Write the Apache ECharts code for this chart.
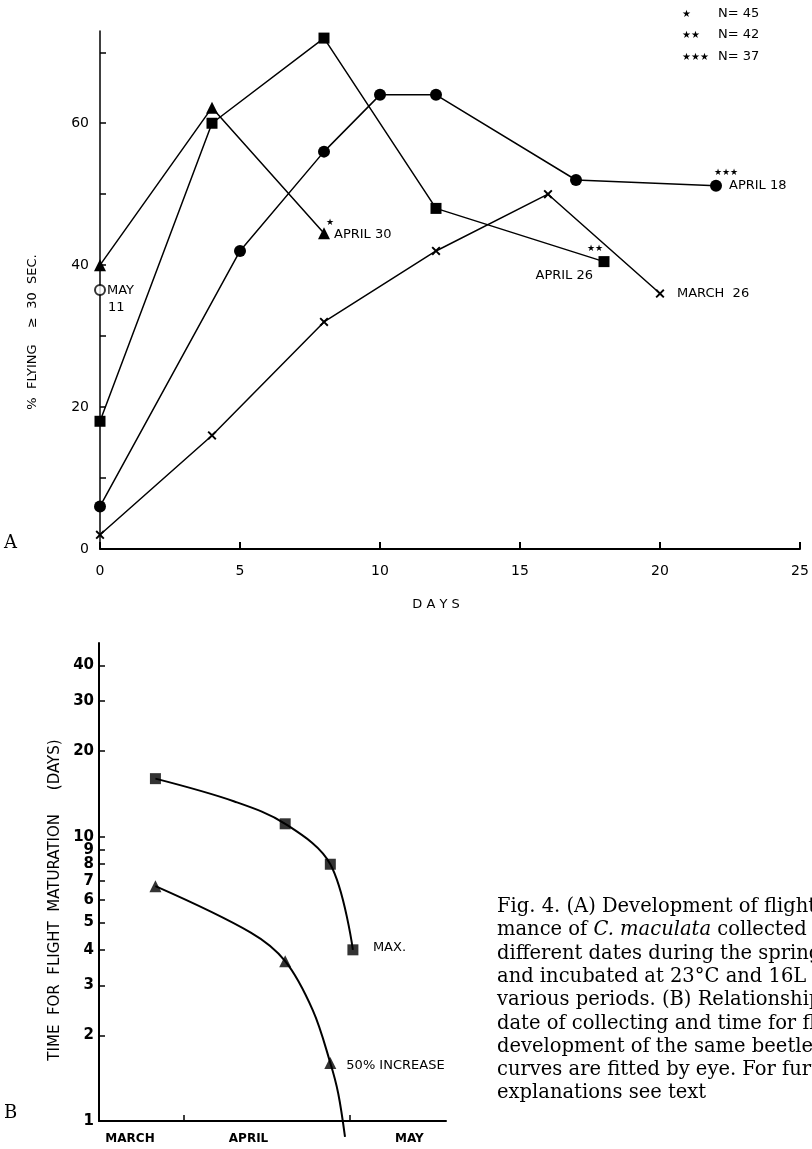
<!DOCTYPE html>
<html>
<head>
<meta charset="utf-8">
<title>Fig. 4</title>
<script src="https://cdn.jsdelivr.net/npm/echarts@6/dist/echarts.min.js"></script>
<style>
  body { margin: 0; background: #fff; }
  #main { width: 812px; height: 1149px; }
</style>
</head>
<body>
<div id="main"></div>
<script>
// ---- panel A : days of incubation vs % flying >= 30 sec
var dayTicks = [0, 5, 10, 15, 20, 25];
var pctTicks = [0, 10, 20, 30, 40, 50, 60, 70];
var pctLabels = [0, 20, 40, 60];

var april26 = [[0, 18], [4, 60], [8, 72], [12, 48], [18, 40.5]];
var april30 = [[0, 40], [4, 62.2], [8, 44.5]];
var april18 = [[0, 6], [5, 42], [8, 56], [10, 64], [12, 64], [17, 52], [22, 51.2]];
var march26 = [[0, 2], [4, 16], [8, 32], [12, 42], [16, 50], [20, 36]];
var may11 = [[0, 36.5]];

// ---- panel B : date collected (days after March 1) vs time for flight maturation
var monthTicks = [30, 59.5];
var monthNames = ['MARCH', 'APRIL', 'MAY'];
var monthLabelPos = [20.5, 41.5, 70];
var timeTicks = [1, 2, 3, 4, 5, 6, 7, 8, 9, 10, 20, 30, 40];

var maxPts = [[25, 16], [48, 11.1], [56, 8], [60, 4]];
var halfPts = [[25, 6.7], [48, 3.65], [56, 1.6]];
// curves were fitted by eye, these follow the drawn lines
var maxCurve = [[25, 16], [39, 13.3], [48, 11.1], [56, 8], [60, 4]];
var halfCurve = [[25, 6.7], [41.9, 4.6], [48, 3.65], [52.9, 2.45], [56, 1.6], [57.4, 1.25], [58.6, 0.88]];

var SANS = '"DejaVu Sans", sans-serif';
var SERIF = '"DejaVu Serif", "Liberation Serif", serif';
var crossPath = 'path://M0,1.5L1.5,0L5,3.5L8.5,0L10,1.5L6.5,5L10,8.5L8.5,10L5,6.5L1.5,10L0,8.5L3.5,5Z';

var myChart = echarts.init(document.getElementById('main'));

function plotLine(data, symbol, size) {
    return {
        type: 'line', xAxisIndex: 0, yAxisIndex: 0,
        data: data, symbol: symbol, symbolSize: size, showSymbol: true,
        lineStyle: { color: '#000', width: 1.5 },
        itemStyle: { color: '#000' },
        z: 3
    };
}

var axisLine = { show: true, onZero: false, lineStyle: { color: '#000', width: 2 } };

myChart.setOption({
    animation: false,
    backgroundColor: '#fff',
    grid: [
        { left: 100, top: 31, width: 700, height: 518 },
        { left: 99, top: 643, width: 347, height: 478 }
    ],
    xAxis: [
        {
            type: 'value', gridIndex: 0, min: 0, max: 25, interval: 5,
            axisLine: axisLine,
            axisTick: { inside: true, length: 7, lineStyle: { color: '#000', width: 2 } },
            axisLabel: { margin: 15, fontSize: 14, color: '#000', fontFamily: SANS },
            splitLine: { show: false }
        },
        {
            type: 'value', gridIndex: 1, min: 15, max: 76.5,
            axisLine: axisLine,
            axisTick: { inside: true, length: 6, customValues: monthTicks, lineStyle: { color: '#000', width: 1.5 } },
            axisLabel: {
                customValues: monthLabelPos, margin: 12, fontSize: 12, fontWeight: 'bold',
                color: '#000', fontFamily: SANS,
                formatter: function (v) { return monthNames[monthLabelPos.indexOf(v)]; }
            },
            splitLine: { show: false }
        }
    ],
    yAxis: [
        {
            type: 'value', gridIndex: 0, min: 0, max: 73,
            axisLine: { show: true, lineStyle: { color: '#000', width: 1.5 } },
            axisTick: { inside: true, length: 6, customValues: pctTicks, lineStyle: { color: '#000', width: 1.5 } },
            axisLabel: { customValues: pctLabels, margin: 11, fontSize: 14, color: '#000', fontFamily: SANS },
            splitLine: { show: false }
        },
        {
            type: 'log', gridIndex: 1, min: 1, max: 48, logBase: 10,
            axisLine: { show: true, lineStyle: { color: '#000', width: 2 } },
            axisTick: { inside: true, length: 6, customValues: timeTicks, lineStyle: { color: '#000', width: 1.5 } },
            axisLabel: { customValues: timeTicks, margin: 5, fontSize: 15, fontWeight: 'bold', color: '#000', fontFamily: SANS },
            splitLine: { show: false },
            minorTick: { show: false }
        }
    ],
    series: [
        plotLine(april26, 'rect', 11),
        plotLine(april30, 'triangle', 12),
        plotLine(april18, 'circle', 12),
        plotLine(march26, crossPath, 9),
        {
            type: 'scatter', xAxisIndex: 0, yAxisIndex: 0, data: may11,
            symbol: 'emptyCircle', symbolSize: 10,
            itemStyle: { color: '#000', borderColor: '#000', borderWidth: 2 }, z: 4
        },
        {
            type: 'line', xAxisIndex: 1, yAxisIndex: 1, data: maxCurve, smooth: 0.35,
            showSymbol: false, clip: false, lineStyle: { color: '#000', width: 2 }
        },
        {
            type: 'line', xAxisIndex: 1, yAxisIndex: 1, data: halfCurve, smooth: 0.35,
            showSymbol: false, clip: false, lineStyle: { color: '#000', width: 2 }
        },
        {
            type: 'scatter', xAxisIndex: 1, yAxisIndex: 1, data: maxPts,
            symbol: 'rect', symbolSize: 11, itemStyle: { color: '#000' }, z: 4
        },
        {
            type: 'scatter', xAxisIndex: 1, yAxisIndex: 1, data: halfPts,
            symbol: 'triangle', symbolSize: 12, itemStyle: { color: '#000' }, z: 4
        }
    ]
});

// text placed next to points, positions come from the axes
function at(g, pt) {
    return myChart.convertToPixel({ xAxisIndex: g, yAxisIndex: g }, pt);
}
var notes = [
    { g: 0, pt: april30[2], text: 'APRIL 30', dx: 10, dy: 1, align: 'left' },
    { g: 0, pt: april30[2], text: '★', dx: 6, dy: -11, align: 'center', size: 9 },
    { g: 0, pt: april18[6], text: 'APRIL 18', dx: 13, dy: 0, align: 'left' },
    { g: 0, pt: april18[6], text: '★★★', dx: 10, dy: -13, align: 'center', size: 9 },
    { g: 0, pt: april26[4], text: 'APRIL 26', dx: -11, dy: 14, align: 'right' },
    { g: 0, pt: april26[4], text: '★★', dx: -9, dy: -13, align: 'center', size: 9 },
    { g: 0, pt: march26[5], text: 'MARCH  26', dx: 17, dy: 0, align: 'left' },
    { g: 0, pt: may11[0], text: 'MAY', dx: 7, dy: 1, align: 'left' },
    { g: 0, pt: may11[0], text: '11', dx: 8, dy: 18, align: 'left' },
    { g: 1, pt: maxPts[3], text: 'MAX.', dx: 20, dy: -2, align: 'left' },
    { g: 1, pt: halfPts[2], text: '50% INCREASE', dx: 16, dy: 3, align: 'left' }
];
var graphics = notes.map(function (n) {
    var p = at(n.g, n.pt);
    return {
        type: 'text', x: p[0] + n.dx, y: p[1] + n.dy,
        style: {
            text: n.text, fill: '#000', textAlign: n.align, textVerticalAlign: 'middle',
            font: (n.size || 13) + 'px ' + SANS
        }
    };
});

function label(x, y, text, font, opts) {
    var s = { text: text, fill: '#000', font: font, textAlign: 'left', textVerticalAlign: 'middle' };
    var el = { type: 'text', x: x, y: y, style: s };
    if (opts) {
        for (var k in opts.style || {}) s[k] = opts.style[k];
        if (opts.rotation) el.rotation = opts.rotation;
    }
    return el;
}

// legend of sample sizes
graphics.push(label(682, 14, '★', '10px ' + SANS));
graphics.push(label(682, 35, '★★', '10px ' + SANS));
graphics.push(label(682, 57, '★★★', '10px ' + SANS));
graphics.push(label(718, 14, 'N= 45', '13px ' + SANS));
graphics.push(label(718, 35, 'N= 42', '13px ' + SANS));
graphics.push(label(718, 57, 'N= 37', '13px ' + SANS));

// axis titles and panel letters
graphics.push(label(436, 605, 'D A Y S', '13px ' + SANS, { style: { textAlign: 'center' } }));
graphics.push(label(33, 332, '%  FLYING    ≥  30  SEC.', '13px ' + SANS,
    { rotation: Math.PI / 2, style: { textAlign: 'center' } }));
graphics.push(label(55, 900, 'TIME  FOR  FLIGHT  MATURATION     (DAYS)', '15px ' + SANS,
    { rotation: Math.PI / 2, style: { textAlign: 'center' } }));
graphics.push(label(4, 543, 'A', '18px ' + SERIF));
graphics.push(label(4, 1113, 'B', '18px ' + SERIF));

// caption
var caption = [
    'Fig. 4. (A) Development of flight',
    'mance of {i|C. maculata} collected',
    'different dates during the spring',
    'and incubated at 23°C and 16L',
    'various periods. (B) Relationship',
    'date of collecting and time for flight',
    'development of the same beetles',
    'curves are fitted by eye. For further',
    'explanations see text'
];
caption.forEach(function (line, i) {
    graphics.push({
        type: 'text', x: 497, y: 907 + i * 23.3,
        style: {
            text: line, fill: '#000', font: '19.5px ' + SERIF,
            textAlign: 'left', textVerticalAlign: 'middle',
            rich: { i: { font: 'italic 19.5px ' + SERIF, fill: '#000' } }
        }
    });
});

myChart.setOption({ graphic: graphics });
</script>
</body>
</html>
